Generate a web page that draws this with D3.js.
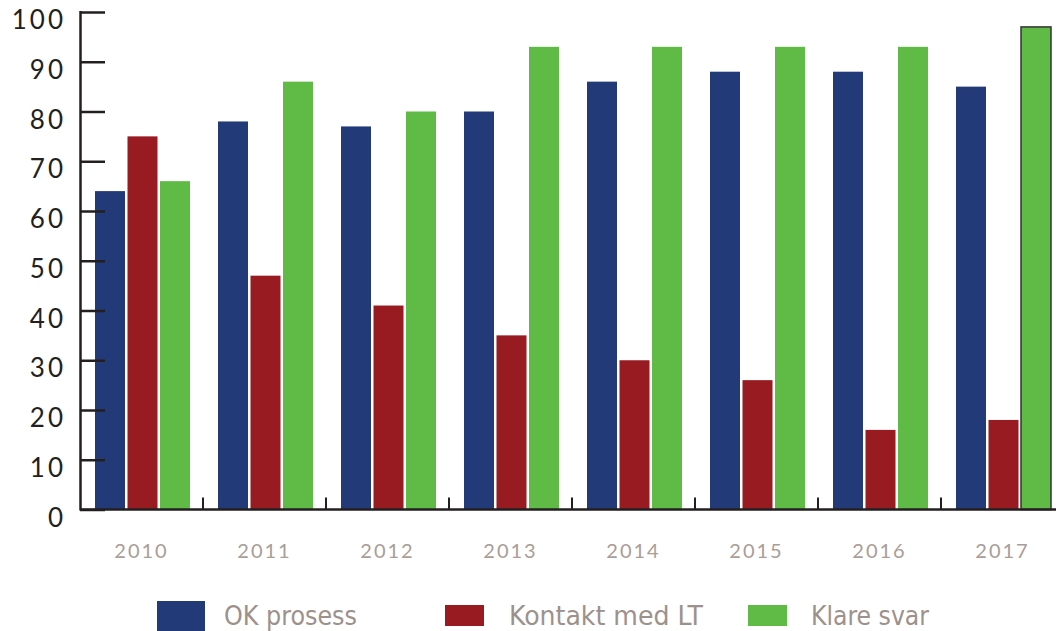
<!DOCTYPE html>
<html>
<head>
<meta charset="utf-8">
<script src="https://cdn.jsdelivr.net/npm/d3@7"></script>
<style>
  html, body { margin: 0; padding: 0; background: #ffffff; }
  svg { display: block; }
</style>
</head>
<body>
<svg id="chart" width="1056" height="631"></svg>
<script>
// ---- data ----
const years = ["2010", "2011", "2012", "2013", "2014", "2015", "2016", "2017"];
const seriesNames = ["OK prosess", "Kontakt med LT", "Klare svar"];
const okProsess   = [64, 78, 77, 80, 86, 88, 88, 85];
const kontaktMedLT = [75, 47, 41, 35, 30, 26, 16, 18];
const klareSvar   = [66, 86, 80, 93, 93, 93, 93, 97];
const yTicks = [0, 10, 20, 30, 40, 50, 60, 70, 80, 90, 100];
const colors = ["#233a79", "#981b21", "#5fbb46"];

const seriesValues = [okProsess, kontaktMedLT, klareSvar];

// ---- layout ----
const svg = d3.select("#chart");
const x0 = 80, yTop = 12, yBottom = 509.5;

const x = d3.scaleBand().domain(years).range([x0, x0 + 123 * years.length]).padding(0);
const xInner = d3.scaleBand().domain(seriesNames).range([15, 110]).paddingInner(0.077).paddingOuter(0);
const y = d3.scaleLinear().domain([0, 100]).range([yBottom, yTop]);

// bars
const groups = svg.append("g").selectAll("g")
  .data(years)
  .join("g")
  .attr("transform", d => `translate(${x(d)},0)`);

groups.selectAll("rect")
  .data((d, i) => seriesNames.map((s, j) => ({ year: d, series: s, value: seriesValues[j][i], j })))
  .join("rect")
  .attr("x", d => xInner(d.series))
  .attr("width", xInner.bandwidth())
  .attr("y", d => y(d.value))
  .attr("height", d => y(0) - y(d.value))
  .attr("fill", d => colors[d.j])
  .attr("stroke", d => (d.year === "2017" && d.j === 2) ? "#333" : "none")
  .attr("stroke-width", 1.5);

// y axis
const yAxis = d3.axisRight(y).tickValues(yTicks).tickSize(25).tickFormat("");
const yg = svg.append("g").attr("transform", `translate(${x0},0)`).call(yAxis);
yg.select(".domain").attr("stroke", "#231f20").attr("stroke-width", 2.5).attr("d", `M0.5,${yTop - 1}V${yBottom + 1}`);
yg.selectAll(".tick line").attr("stroke", "#231f20").attr("stroke-width", 2.5);

// y labels
svg.append("g").selectAll("text")
  .data(yTicks)
  .join("text")
  .attr("x", 66)
  .attr("y", d => y(d) + 17)
  .attr("text-anchor", "end")
  .attr("fill", "#231f20")
  .attr("font-family", "Lato, 'DejaVu Sans', sans-serif")
  .attr("font-size", 26)
  .attr("letter-spacing", 3)
  .text(d => d);

// x axis baseline
svg.append("line")
  .attr("x1", x0).attr("x2", 1056)
  .attr("y1", yBottom).attr("y2", yBottom)
  .attr("stroke", "#231f20").attr("stroke-width", 2.5);

// category separator ticks (upward)
svg.append("g").selectAll("line")
  .data(years.slice(1))
  .join("line")
  .attr("x1", d => x(d)).attr("x2", d => x(d))
  .attr("y1", yBottom).attr("y2", yBottom - 12)
  .attr("stroke", "#231f20").attr("stroke-width", 2);

// x labels
svg.append("g").selectAll("text")
  .data(years)
  .join("text")
  .attr("x", d => x(d) + x.bandwidth() / 2)
  .attr("y", 558)
  .attr("text-anchor", "middle")
  .attr("fill", "#a99d97")
  .attr("font-family", "Lato, 'DejaVu Sans', sans-serif")
  .attr("font-size", 20)
  .attr("letter-spacing", 2)
  .text(d => d);

// legend
const legendItems = [
  { name: seriesNames[0], color: colors[0], sx: 157, sy: 601, sw: 48, sh: 30, tx: 224, tw: 133 },
  { name: seriesNames[1], color: colors[1], sx: 445, sy: 605, sw: 39, sh: 21, tx: 509, tw: 194 },
  { name: seriesNames[2], color: colors[2], sx: 748, sy: 605, sw: 39, sh: 21, tx: 811, tw: 118 }
];
const lg = svg.append("g");
lg.selectAll("rect").data(legendItems).join("rect")
  .attr("x", d => d.sx).attr("y", d => d.sy)
  .attr("width", d => d.sw).attr("height", d => d.sh)
  .attr("fill", d => d.color);
lg.selectAll("text").data(legendItems).join("text")
  .attr("x", d => d.tx).attr("y", 625)
  .attr("fill", "#9d918c")
  .attr("font-family", "'Liberation Sans Narrow', 'DejaVu Sans Condensed', Roboto, sans-serif")
  .attr("font-size", 26)
  .attr("textLength", d => d.tw)
  .attr("lengthAdjust", "spacingAndGlyphs")
  .text(d => d.name);
</script>
</body>
</html>
